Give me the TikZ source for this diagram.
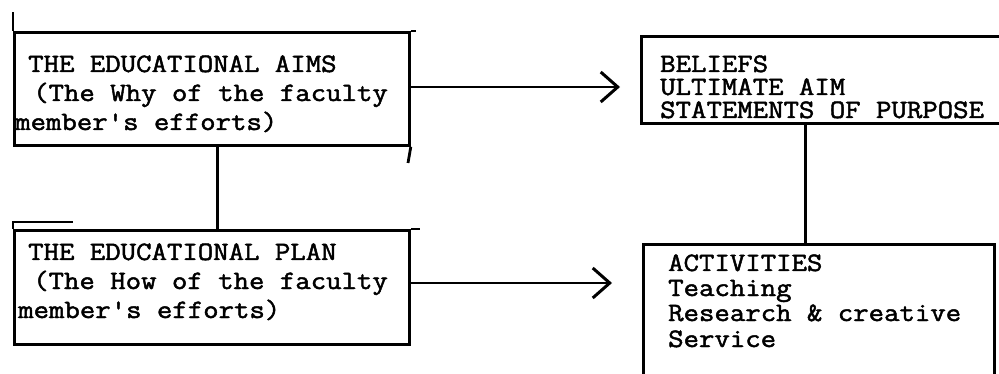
\documentclass[tikz,border=0pt]{standalone}
\usepackage{fontspec}
\newfontfamily\tw{Latin Modern Mono}[FakeBold=1.8,FakeStretch=1.13]
\usetikzlibrary{arrows.meta,calc}
\tikzset{
  box/.style={draw, line width=2.8pt, inner sep=0pt, anchor=north west},
  ext/.style={line width=2.8pt},
  conn/.style={line width=3pt},
  arr/.style={line width=2.6pt, -{Straight Barb[length=17pt,width=30pt,line width=3pt]}},
  txt/.style={anchor=base west, inner sep=0pt, font=\tw\fontsize{26.5}{29}\selectfont},
}
\begin{document}
\begin{tikzpicture}[x=1pt,y=-1pt]
\useasboundingbox[fill=white] (0,0) rectangle (999,374);
% boxes
\node[box, minimum width=395pt, minimum height=113pt] (aims) at (13,31) {};
\node[box, minimum width=395pt, minimum height=114pt] (plan) at (13,229) {};
\node[box, minimum width=370pt, minimum height=87pt] (beliefs) at (640,35) {};
\node[box, minimum width=351pt, minimum height=150pt] (act) at (642,243) {};
% hand-drawn extensions
\coordinate (s1) at (13,12);
\coordinate (e1) at (416,31);
\coordinate (r1) at (408,163);
\coordinate (s2a) at (13,222);
\coordinate (s2b) at (73,222);
\coordinate (e2) at (420,229);
\draw[ext] (aims.north west) -- (s1);
\draw[ext] (aims.north east) -- (e1);
\draw[ext] (aims.south east) -- (r1);
\draw[ext] (plan.north west) -- (s2a) -- (s2b);
\draw[ext] (plan.north east) -- (e2);
% text
\node[txt] (a1) at (28,72) {THE EDUCATIONAL AIMS};
\node[txt] (a2) at (33,101) {(The Why of the faculty};
\node[txt] (a3) at (15,130) {member's efforts)};
\node[txt] (p1) at (28,260) {THE EDUCATIONAL PLAN};
\node[txt] (p2) at (33,289) {(The How of the faculty};
\node[txt] (p3) at (18,318) {member's efforts)};
\node[txt] (b1) at (660,72) {BELIEFS};
\node[txt] (b2) at (660,95) {ULTIMATE AIM};
\node[txt] (b3) at (660,118) {STATEMENTS OF PURPOSE};
\node[txt] (c1) at (668,271) {ACTIVITIES};
\node[txt] (c2) at (668,296) {Teaching};
\node[txt] (c3) at (668,321) {Research \& creative};
\node[txt] (c4) at (668,347) {Service};
% connectors
\coordinate (vx1) at (217,0);
\coordinate (vx2) at (805,0);
\coordinate (hy1) at (0,87);
\coordinate (hy2) at (0,283);
\draw[conn] (aims.south -| vx1) -- (plan.north -| vx1);
\draw[conn] (beliefs.south -| vx2) -- (act.north -| vx2);
\draw[arr, shorten >=20pt] (aims.east |- hy1) -- (beliefs.west |- hy1);
\draw[arr, shorten >=30pt] (plan.east |- hy2) -- (act.west |- hy2);
\end{tikzpicture}
\end{document}
